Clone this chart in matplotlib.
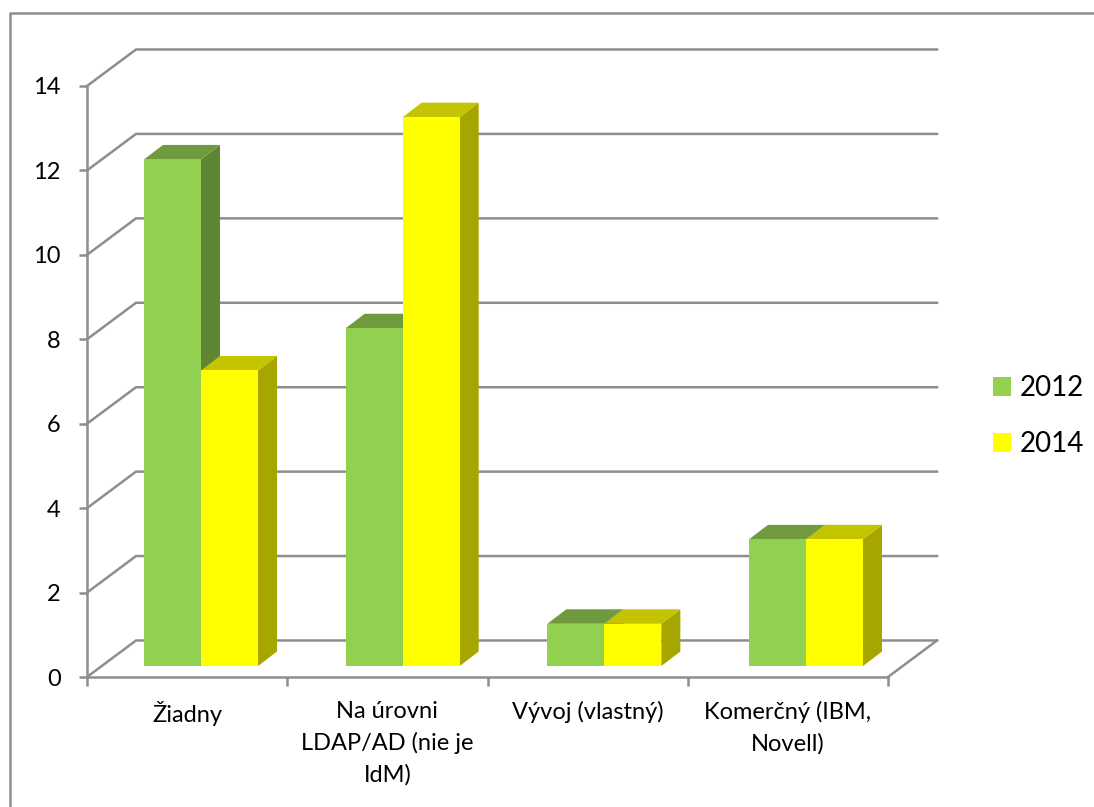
import matplotlib
matplotlib.use("Agg")
import matplotlib.pyplot as plt
from matplotlib.lines import Line2D
from matplotlib.patches import Patch, Polygon

plt.rcParams['font.family'] = ['Lato', 'DejaVu Sans']

categories = ['Žiadny', 'Na úrovni\nLDAP/AD (nie je\nIdM)', 'Vývoj (vlastný)', 'Komerčný (IBM,\nNovell)']
values_2012 = [12, 8, 1, 3]
values_2014 = [7, 13, 1, 3]
years = ['2012', '2014']
y_ticks = [0, 2, 4, 6, 8, 10, 12, 14]

GREY = '#8e8e8e'
GREEN = ('#92d050', '#5f8632', '#6f9a3e')
YELLOW = ('#ffff00', '#a6a600', '#c4c400')

W, H = 1094, 807
fig = plt.figure(figsize=(W / 100, H / 100), dpi=100)
ax = fig.add_axes([87 / W, 1 - 677 / H, 801 / W, 591 / H])
ax.set_xlim(0, 4)
ax.set_ylim(0, 14)
ax.patch.set_visible(False)

# oblique depth of the walls and of the bars, in data units
wall_dx, wall_dy = 49 / 200.25, 36.5 / 42.2
bar_dx, bar_dy = 19 / 200.25, 14.5 / 42.2
bar_w = 57 / 200.25
bar_lift = 11 / 42.2
bar_start = 57 / 200.25
group_step = 201.67 / 200.25


def add_bar(left, value, colors):
    right = left + bar_w
    top = bar_lift + value
    side = [(right, bar_lift), (right + bar_dx, bar_lift + bar_dy),
            (right + bar_dx, top + bar_dy), (right, top)]
    roof = [(left, top), (left + bar_dx, top + bar_dy),
            (right + bar_dx, top + bar_dy), (right, top)]
    ax.add_patch(Polygon(side, color=colors[1], linewidth=0, zorder=3, clip_on=False))
    ax.add_patch(Polygon(roof, color=colors[2], linewidth=0, zorder=3, clip_on=False))
    ax.bar(left, value, bar_w, bottom=bar_lift, align='edge', color=colors[0],
           linewidth=0, zorder=3, clip_on=False, antialiased=False)


# back wall gridlines with their slanted part on the side wall
for t in y_ticks:
    ax.plot([0, wall_dx, 4 + wall_dx], [t, t + wall_dy, t + wall_dy],
            color=GREY, lw=1.8, zorder=1, clip_on=False, solid_joinstyle='miter')
ax.plot([4, 4 + wall_dx], [0, wall_dy], color=GREY, lw=1.8, zorder=1, clip_on=False)

for i in range(len(categories)):
    add_bar(i * group_step + bar_start, values_2012[i], GREEN)
    add_bar(i * group_step + bar_start + bar_w, values_2014[i], YELLOW)

for name in ['top', 'right']:
    ax.spines[name].set_visible(False)
for name in ['left', 'bottom']:
    ax.spines[name].set_color(GREY)
    ax.spines[name].set_linewidth(1.8)

ax.set_yticks(y_ticks)
ax.set_xticks(range(5))
ax.set_xticklabels([])
ax.set_xticks([i + 0.5 for i in range(4)], minor=True)
ax.set_xticklabels(categories, minor=True, fontsize=17, linespacing=1.57)
ax.tick_params(axis='y', length=6, width=1.8, color=GREY, labelsize=17, pad=13)
ax.tick_params(axis='x', which='major', length=6.5, width=1.8, color=GREY)
ax.tick_params(axis='x', which='minor', length=0, pad=17)

handles = [Patch(color=GREEN[0], linewidth=0), Patch(color=YELLOW[0], linewidth=0)]
fig.legend(handles, years, loc='center left', bbox_to_anchor=(993 / W, 1 - 416 / H),
           frameon=False, fontsize=20, handlelength=0.65, handleheight=0.65,
           handletextpad=0.32, labelspacing=1.08, borderpad=0, borderaxespad=0)

# outer chart frame, open towards the right and bottom edges
fig.add_artist(Line2D([10 / W, 10 / W, 1], [0, 1 - 13 / H, 1 - 13 / H],
                      color=GREY, lw=1.8, transform=fig.transFigure))

fig.savefig('out.png', dpi=100)
